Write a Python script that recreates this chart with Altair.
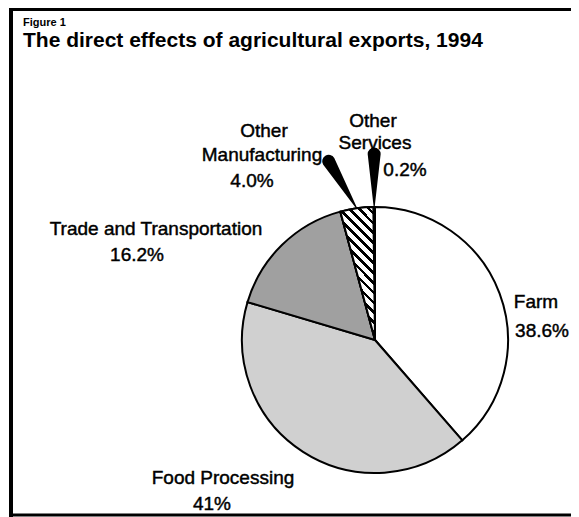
import math
import altair as alt
import pandas as pd

# ---------------- data ----------------
categories = ["Farm", "Food Processing", "Trade and Transportation",
              "Other Manufacturing", "Other Services"]
values = [38.6, 41.0, 16.2, 4.0, 0.2]
pct_labels = ["38.6%", "41%", "16.2%", "4.0%", "0.2%"]
name_lines = [["Farm"], ["Food Processing"], ["Trade and Transportation"],
              ["Other", "Manufacturing"], ["Other", "Services"]]
fig_label = "Figure 1"
title_text = "The direct effects of agricultural exports, 1994"

# ---------------- layout / style ----------------
W, H = 563, 509
CX, CY, R = 367, 332, 133
FONT = "Liberation Sans"
fills = ["#ffffff", "#d0d0d0", "#a0a0a0", "#ffffff", "#ffffff"]
name_pos = [[(528, 294)], [(215, 470)], [(148, 221)],
            [(256, 123), (254, 147)], [(365, 113), (367, 135)]]
pct_pos = [(534, 323), (204, 496), (129, 247), (244, 173), (397, 162)]
pointer_off = {"Other Manufacturing": (-28, -47), "Other Services": (0, -53)}

df = pd.DataFrame({"category": categories, "value": values,
                   "order": list(range(len(categories)))})

rows = []
for i, lines in enumerate(name_lines):
    for line, (x, y) in zip(lines, name_pos[i]):
        rows.append({"text": line, "x": x, "y": y})
    rows.append({"text": pct_labels[i], "x": pct_pos[i][0], "y": pct_pos[i][1]})
label_df = pd.DataFrame(rows)

xs = alt.Scale(domain=[0, W], nice=False, zero=False)
ys = alt.Scale(domain=[H, 0], nice=False, zero=False)
theta_scale = alt.Scale(domain=[0, 100], range=[0, 2 * math.pi])

base = alt.Chart(df).transform_window(
    cum="sum(value)", sort=[alt.SortField("order")], frame=[None, 0]
).transform_calculate(
    start="datum.cum - datum.value", mid="datum.cum - datum.value / 2"
)

pie = base.mark_arc(outerRadius=R, stroke="black", strokeWidth=2).encode(
    theta=alt.Theta("start:Q", stack=None, scale=theta_scale),
    theta2="cum:Q",
    fill=alt.Fill("category:N", scale=alt.Scale(domain=categories, range=fills), legend=None),
    x=alt.value(CX), y=alt.value(CY),
)

# diagonal hatch for Other Manufacturing via hard-stop gradient
N, frac = 17, 0.38
stops = []
for k in range(N):
    a = k / N
    b = (k + frac) / N
    c = (k + 1) / N
    stops += [alt.GradientStop(offset=a, color="black"),
              alt.GradientStop(offset=b, color="black"),
              alt.GradientStop(offset=b, color="white"),
              alt.GradientStop(offset=c, color="white")]
hatch = alt.LinearGradient(gradient="linear", stops=stops,
                           x1=0, y1=1, x2=0.311, y2=-0.181)

mfg = base.transform_filter(alt.datum.category == "Other Manufacturing").mark_arc(
    outerRadius=R, stroke="black", strokeWidth=2, fill=hatch
).encode(
    theta=alt.Theta("start:Q", stack=None, scale=theta_scale),
    theta2="cum:Q",
    x=alt.value(CX), y=alt.value(CY),
)

offx = "datum.category == 'Other Manufacturing' ? %d : %d" % (
    pointer_off["Other Manufacturing"][0], pointer_off["Other Services"][0])
offy = "datum.category == 'Other Manufacturing' ? %d : %d" % (
    pointer_off["Other Manufacturing"][1], pointer_off["Other Services"][1])

pointers = base.transform_filter(
    alt.FieldOneOfPredicate(field="category", oneOf=list(pointer_off))
).transform_calculate(
    ang="datum.mid / 100 * 2 * PI",
    tipx=f"{CX} + {R} * sin(datum.ang)",
    tipy=f"{CY} - {R} * cos(datum.ang)",
    pt="[0, 1]",
).transform_flatten(["pt"]).transform_calculate(
    px="datum.tipx + (1 - datum.pt) * (" + offx + ")",
    py="datum.tipy + (1 - datum.pt) * (" + offy + ")",
    w="datum.pt == 0 ? 13 : 0",
).mark_trail(color="black").encode(
    x=alt.X("px:Q", scale=xs, axis=None),
    y=alt.Y("py:Q", scale=ys, axis=None),
    size=alt.Size("w:Q", scale=None, legend=None),
    detail="category:N",
    order="pt:Q",
)

labels = alt.Chart(label_df).mark_text(
    font=FONT, fontSize=19, align="center", baseline="middle", color="black",
    stroke="black", strokeWidth=0.45
).encode(
    x=alt.X("x:Q", scale=xs, axis=None),
    y=alt.Y("y:Q", scale=ys, axis=None),
    text="text:N",
)

one = pd.DataFrame({"a": [0]})
fig = alt.Chart(one).mark_text(font=FONT, fontSize=11, fontWeight="bold",
                               align="left", baseline="middle").encode(
    x=alt.value(15), y=alt.value(15), text=alt.value(fig_label))
title = alt.Chart(one).mark_text(font=FONT, fontSize=21, fontWeight="bold",
                                 align="left", baseline="middle").encode(
    x=alt.value(15), y=alt.value(33), text=alt.value(title_text))

left_rule = alt.Chart(one).mark_rule(color="black", strokeWidth=4).encode(
    x=alt.value(3), y=alt.value(0), y2=alt.value(H))
top_rule = alt.Chart(one).mark_rule(color="black", strokeWidth=3).encode(
    y=alt.value(1.5), x=alt.value(1), x2=alt.value(W))
bottom_rule = alt.Chart(one).mark_rule(color="black", strokeWidth=3).encode(
    y=alt.value(H - 2), x=alt.value(1), x2=alt.value(W))

chart = alt.layer(
    pie, mfg, pointers, labels, fig, title, left_rule, top_rule, bottom_rule
).properties(
    width=W, height=H, padding=0, autosize=alt.AutoSizeParams(type="none"),
    background="white",
).configure_view(stroke=None)

chart.save("out.html", embed_options={"renderer": "svg", "actions": False})
